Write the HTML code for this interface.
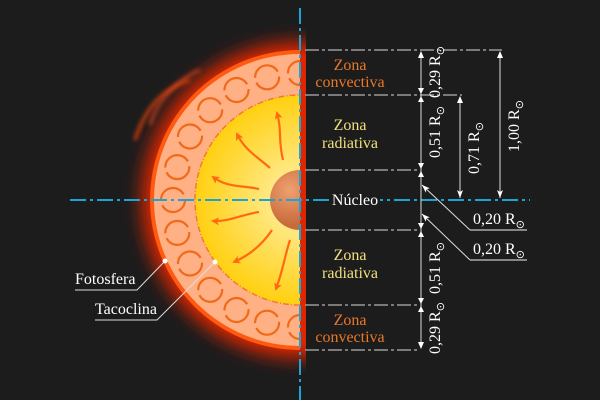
<!DOCTYPE html>
<html><head><meta charset="utf-8"><style>
html,body{margin:0;padding:0;background:#1c1c1c;}
svg{display:block;}
text{font-family:"Liberation Serif",serif;}
</style></head><body>
<svg width="600" height="400" viewBox="0 0 600 400" xmlns="http://www.w3.org/2000/svg">
<defs>
<filter id="blur" x="-50%" y="-50%" width="200%" height="200%"><feGaussianBlur stdDeviation="9"/></filter>
<filter id="blur2" x="-50%" y="-50%" width="200%" height="200%"><feGaussianBlur stdDeviation="2"/></filter>
<clipPath id="left"><rect x="0" y="0" width="300" height="400"/></clipPath>
<clipPath id="left2"><rect x="0" y="0" width="306" height="400"/></clipPath>
<radialGradient id="rad" cx="300" cy="200" r="105" gradientUnits="userSpaceOnUse">
<stop offset="0" stop-color="#fff4b0"/><stop offset="0.5" stop-color="#ffe060"/><stop offset="1" stop-color="#ffd010"/></radialGradient>
<radialGradient id="core" cx="290" cy="190" r="35" gradientUnits="userSpaceOnUse">
<stop offset="0" stop-color="#f0a070"/><stop offset="1" stop-color="#c86a3a"/></radialGradient>
<marker id="ah" markerWidth="8" markerHeight="8" refX="6" refY="4" orient="auto" markerUnits="userSpaceOnUse"><path d="M0,0 L8,4 L0,8 L2,4 Z" fill="#ff6a10"/></marker>
<marker id="wa" markerWidth="8" markerHeight="6" refX="8" refY="3" orient="auto" markerUnits="userSpaceOnUse"><path d="M0,0 L8,3 L0,6 L2,3 Z" fill="#fff"/></marker>
</defs>
<rect width="600" height="400" fill="#1c1c1c"/>
<g clip-path="url(#left2)">
<circle cx="300" cy="200" r="158" fill="#e02800" filter="url(#blur)"/>
<path d="M190,80 C160,90 145,110 135,140" stroke="#e04010" stroke-width="3" fill="none" filter="url(#blur2)"/>
<path d="M200,70 C175,80 155,105 150,125" stroke="#ff5020" stroke-width="2" fill="none" filter="url(#blur2)"/>
</g>
<g clip-path="url(#left)">
<circle cx="300" cy="200" r="150" fill="#ff5a10"/>
<circle cx="300" cy="200" r="146" fill="#ffb085"/>
<circle cx="300" cy="200" r="105" fill="url(#rad)" stroke="#f07a3a" stroke-width="1.5" stroke-dasharray="6 2 1 2"/>
<circle cx="300" cy="200" r="30" fill="url(#core)"/>
<g fill="none" stroke="#f06a1a" stroke-width="2.2" stroke-dasharray="32 5">
<circle cx="300" cy="73" r="12"/><circle cx="267.1" cy="77.3" r="12"/><circle cx="236.5" cy="90" r="12"/>
<circle cx="210.2" cy="110.2" r="12"/><circle cx="190" cy="136.5" r="12"/><circle cx="177.3" cy="167.1" r="12"/>
<circle cx="173" cy="200" r="12"/><circle cx="177.3" cy="232.9" r="12"/><circle cx="190" cy="263.5" r="12"/>
<circle cx="210.2" cy="289.8" r="12"/><circle cx="236.5" cy="310" r="12"/><circle cx="267.1" cy="322.7" r="12"/>
<circle cx="300" cy="327" r="12"/>
</g>
<g fill="none" stroke="#ff6a10" stroke-width="2.2" marker-end="url(#ah)">
<path d="M283,160 C278,140 282,130 277,113"/>
<path d="M270,168 C255,155 245,150 237,134"/>
<path d="M259,189 C240,185 228,188 213,177"/>
<path d="M259,212 C240,215 228,222 213,221"/>
<path d="M272,230 C262,245 250,255 234,262"/>
<path d="M290,240 C285,255 283,270 276,289"/>
</g>
</g>
<g stroke="#9a9a9a" stroke-width="1.5" stroke-dasharray="14 3 3 3" fill="none">
<path d="M305,50 H502"/><path d="M305,95 H462"/><path d="M305,170 H420"/>
<path d="M305,230 H420"/><path d="M305,305 H420"/><path d="M305,350 H420"/>
</g>
<g stroke="#19a5d5" stroke-width="2" stroke-dasharray="16 4 3 4">
<path d="M300,8 V400"/><path d="M70,200 H530"/>
</g>
<g stroke="#ddd" stroke-width="1" fill="none">
<path d="M421,52 V348"/>
<path d="M460,97 V198" marker-end="url(#wa)"/>
<path d="M500,52 V198" marker-end="url(#wa)"/>
<path d="M470,230 H527" stroke="#aaa" stroke-width="1.5"/><path d="M470,260 H527" stroke="#aaa" stroke-width="1.5"/>
<path d="M470,230 L422,185" marker-end="url(#wa)"/>
<path d="M470,260 L422,214" marker-end="url(#wa)"/>
<path d="M75,290 H137 L165,261"/><path d="M95,320 H157 L215,262"/>
</g>
<g fill="#fff"><path d="M418,58 L421,51 L424,58Z"/><path d="M418,88 L421,94 L424,88Z"/><path d="M418,102 L421,96 L424,102Z"/>
<path d="M418,163 L421,169 L424,163Z"/><path d="M418,177 L421,171 L424,177Z"/><path d="M418,223 L421,229 L424,223Z"/>
<path d="M418,237 L421,231 L424,237Z"/><path d="M418,298 L421,304 L424,298Z"/><path d="M418,312 L421,306 L424,312Z"/>
<path d="M418,342 L421,349 L424,342Z"/><path d="M457,103 L460,96 L463,103Z"/><path d="M497,58 L500,51 L503,58Z"/>
<circle cx="165" cy="261" r="2.5"/><circle cx="215" cy="262" r="2.5"/></g>
<g font-size="16" text-anchor="middle">
<text x="350" y="70" fill="#e8782a">Zona</text><text x="350" y="87" fill="#e8782a">convectiva</text>
<text x="350" y="130" fill="#f0e080">Zona</text><text x="350" y="148" fill="#f0e080">radiativa</text>
<text x="350" y="260" fill="#f0e080">Zona</text><text x="350" y="278" fill="#f0e080">radiativa</text>
<text x="350" y="325" fill="#e8782a">Zona</text><text x="350" y="342" fill="#e8782a">convectiva</text>
</g>
<rect x="331" y="191" width="49" height="18" fill="#1c1c1c"/>
<text x="355" y="205" font-size="16" fill="#fff" text-anchor="middle">Núcleo</text>
<g font-size="16" fill="#fff">
<text x="75" y="284">Fotosfera</text><text x="95" y="314">Tacoclina</text>
<text x="473" y="224">0,20 R<tspan font-size="11" dy="4">⊙</tspan></text>
<text x="473" y="254">0,20 R<tspan font-size="11" dy="4">⊙</tspan></text>
<g text-anchor="middle">
<text transform="translate(440,72) rotate(-90)">0,29 R<tspan font-size="11" dy="4">⊙</tspan></text>
<text transform="translate(440,132) rotate(-90)">0,51 R<tspan font-size="11" dy="4">⊙</tspan></text>
<text transform="translate(479,148) rotate(-90)">0,71 R<tspan font-size="11" dy="4">⊙</tspan></text>
<text transform="translate(519,126) rotate(-90)">1,00 R<tspan font-size="11" dy="4">⊙</tspan></text>
<text transform="translate(440,268) rotate(-90)">0,51 R<tspan font-size="11" dy="4">⊙</tspan></text>
<text transform="translate(440,328) rotate(-90)">0,29 R<tspan font-size="11" dy="4">⊙</tspan></text>
</g></g>
</svg>
</body></html>
